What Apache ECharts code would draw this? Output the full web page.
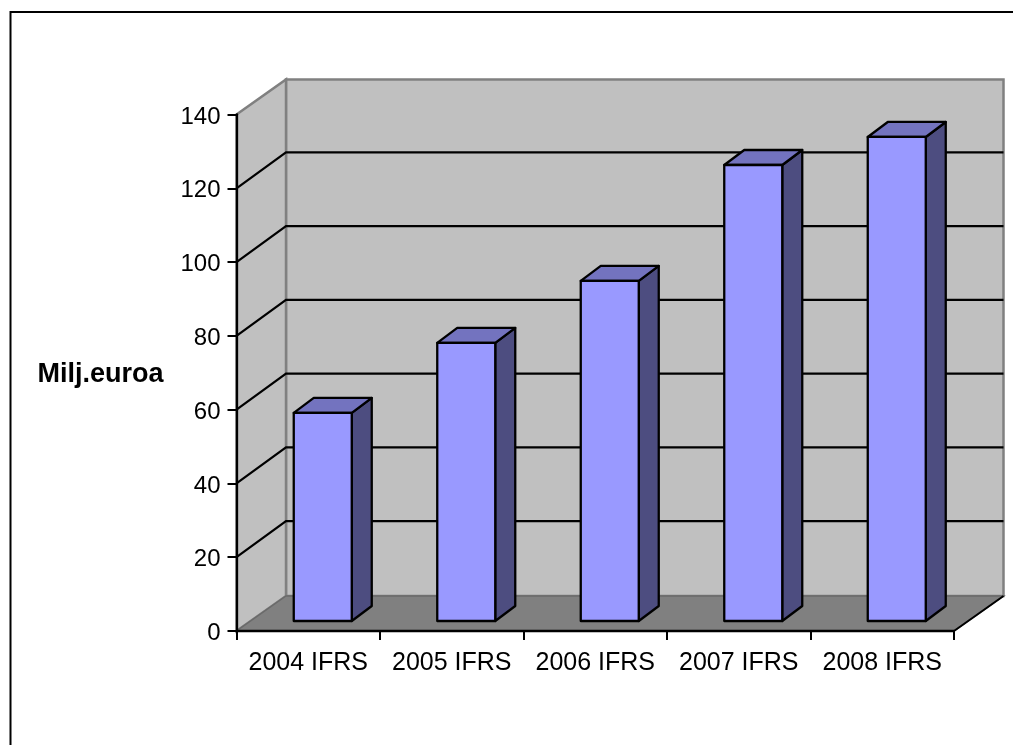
<!DOCTYPE html>
<html>
<head>
<meta charset="utf-8">
<style>html,body{margin:0;padding:0;background:#fff}#c{width:1013px;height:745px}</style>
<script src="https://cdn.jsdelivr.net/npm/echarts@6/dist/echarts.min.js"></script>
</head>
<body>
<div id="c"></div>
<script>
var categories = ['2004 IFRS', '2005 IFRS', '2006 IFRS', '2007 IFRS', '2008 IFRS'];
var values = [56.4, 75.4, 92.2, 123.6, 131.2];
var yTicks = [0, 20, 40, 60, 80, 100, 120, 140];
var yAxisName = 'Milj.euroa';

var WALL_DX = 49.5, WALL_DY = -35, GRID_DY = -36;
var BAR_OFF_DX = 14.5, BAR_OFF_DY = -10;
var BAR_W = 58, BAR_DX = 20, BAR_DY = -15;
var FONT = '"Liberation Sans", Arial, sans-serif';

function renderWalls(params, api) {
  var cs = params.coordSys;
  var l = cs.x, r = cs.x + cs.width, t = cs.y, b = cs.y + cs.height;
  var ch = [];
  // back wall
  ch.push({type: 'polygon', shape: {points: [[l + WALL_DX, t + WALL_DY], [r + WALL_DX, t + WALL_DY], [r + WALL_DX, b + WALL_DY], [l + WALL_DX, b + WALL_DY]]},
    style: {fill: '#c0c0c0', stroke: '#808080', lineWidth: 2.5}});
  // side wall
  ch.push({type: 'polygon', shape: {points: [[l, t], [l + WALL_DX, t + WALL_DY], [l + WALL_DX, b + WALL_DY], [l, b]]},
    style: {fill: '#c0c0c0', stroke: '#808080', lineWidth: 2.5}});
  // floor
  ch.push({type: 'polygon', shape: {points: [[l, b], [r, b], [r + WALL_DX, b + WALL_DY], [l + WALL_DX, b + WALL_DY]]},
    style: {fill: '#808080', stroke: '#6a6a6a', lineWidth: 1.5}});
  ch.push({type: 'line', shape: {x1: r, y1: b, x2: r + WALL_DX, y2: b + WALL_DY}, style: {stroke: '#000', lineWidth: 2}});
  // gridlines
  yTicks.forEach(function (v) {
    if (v === 0 || v === yTicks[yTicks.length - 1]) return;
    var y = api.coord([0, v])[1];
    ch.push({type: 'polyline', shape: {points: [[l, y], [l + WALL_DX, y + GRID_DY], [r + WALL_DX, y + GRID_DY]]}, style: {fill: 'none', stroke: '#000', lineWidth: 2.2}});
  });
  return {type: 'group', children: ch};
}

function renderBar(params, api) {
  var p0 = api.coord([api.value(0), 0]);
  var p1 = api.coord([api.value(0), api.value(1)]);
  var xl = p0[0] + BAR_OFF_DX - BAR_W / 2, xr = xl + BAR_W;
  var yb = p0[1] + BAR_OFF_DY, yt = p1[1] + BAR_OFF_DY;
  function st(f) { return {fill: f, stroke: '#000', lineWidth: 2.3, lineJoin: 'round'}; }
  return {type: 'group', children: [
    {type: 'polygon', shape: {points: [[xr, yb], [xr + BAR_DX, yb + BAR_DY], [xr + BAR_DX, yt + BAR_DY], [xr, yt]]}, style: st('#4d4d80')},
    {type: 'polygon', shape: {points: [[xl, yt], [xr, yt], [xr + BAR_DX, yt + BAR_DY], [xl + BAR_DX, yt + BAR_DY]]}, style: st('#7373bf')},
    {type: 'polygon', shape: {points: [[xl, yb], [xr, yb], [xr, yt], [xl, yt]]}, style: st('#9999ff')}
  ]};
}

var chart = echarts.init(document.getElementById('c'), null, {renderer: 'canvas'});
chart.setOption({
  animation: false,
  backgroundColor: '#fff',
  textStyle: {fontFamily: FONT},
  graphic: [{type: 'rect', silent: true, shape: {x: 10.5, y: 12, width: 1100, height: 1000}, style: {fill: 'none', stroke: '#000', lineWidth: 2}}],
  grid: {left: 236.5, top: 114.5, width: 717.5, height: 516.5, containLabel: false},
  xAxis: {
    type: 'category', data: categories, boundaryGap: true, z: 10,
    axisLine: {show: true, lineStyle: {color: '#000', width: 2.3}},
    axisTick: {show: true, length: 9, alignWithLabel: false, lineStyle: {color: '#000', width: 2}},
    axisLabel: {color: '#000', fontSize: 25, margin: 20, interval: 0, fontFamily: FONT},
    splitLine: {show: false}
  },
  yAxis: {
    type: 'value', min: 0, max: 140, interval: 20, z: 10,
    name: yAxisName, nameLocation: 'middle', nameRotate: 0, nameGap: 73,
    nameTextStyle: {color: '#000', fontSize: 27, fontWeight: 'bold', fontFamily: FONT, verticalAlign: 'top', lineHeight: 3},
    axisLine: {show: true, lineStyle: {color: '#000', width: 2.3}},
    axisTick: {show: true, length: 9, lineStyle: {color: '#000', width: 2}},
    axisLabel: {color: '#000', fontSize: 24, margin: 16, fontFamily: FONT, verticalAlign: 'top', lineHeight: 5},
    splitLine: {show: false}
  },
  series: [
    {type: 'custom', coordinateSystem: 'cartesian2d', clip: false, silent: true, z: 1, data: [[0, 0]], renderItem: renderWalls, encode: {x: 0, y: 1}},
    {type: 'custom', coordinateSystem: 'cartesian2d', clip: false, silent: true, z: 2, data: values.map(function (v, i) { return [i, v]; }), renderItem: renderBar, encode: {x: 0, y: 1}}
  ]
});
</script>
</body>
</html>
